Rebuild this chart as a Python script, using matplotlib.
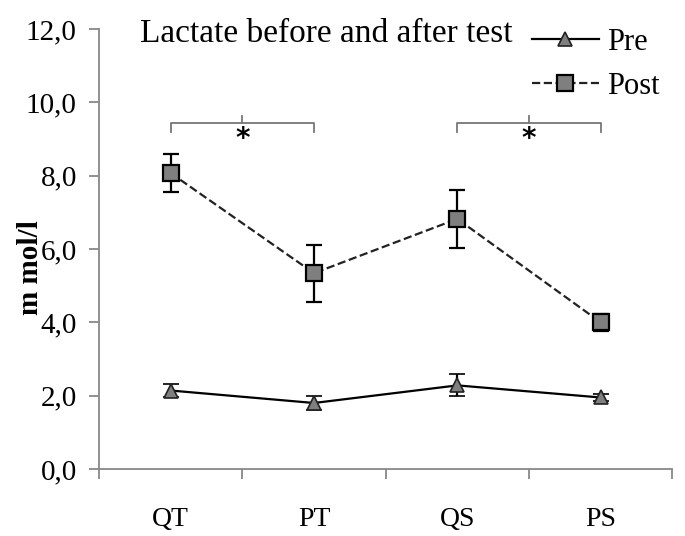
import matplotlib.pyplot as plt
from matplotlib.lines import Line2D
from matplotlib.ticker import FuncFormatter

groups = ["QT", "PT", "QS", "PS"]
pre = [2.14, 1.80, 2.28, 1.95]
pre_err = [0.17, 0.18, 0.30, 0.09]
post = [8.07, 5.34, 6.82, 4.00]
post_err = [0.51, 0.78, 0.79, 0.24]
title = "Lactate before and after test"

plt.rcParams['font.family'] = ['Liberation Serif', 'DejaVu Serif']

fig = plt.figure(figsize=(6.85, 5.36), dpi=100)
ax = fig.add_axes([0.1445, 0.125, 0.837, 0.821])

x = list(range(len(groups)))
pre_style = dict(color='black', lw=1.6, marker='^', mfc='#7f7f7f', mec='#222222', ms=10, mew=1.2)
post_style = dict(color='#222222', lw=1.6, ls='--', marker='s', mfc='#7f7f7f', mec='black', ms=11, mew=1.6)
ax.errorbar(x, pre, yerr=pre_err, ecolor='black', elinewidth=1.6, capsize=6, capthick=1.6, **pre_style)
ax.errorbar(x, post, yerr=post_err, ecolor='black', elinewidth=1.6, capsize=6, capthick=1.6, **post_style)

# significance brackets
for a, b in [(0, 1), (2, 3)]:
    ax.plot([a, a, b, b], [9.2, 9.44, 9.44, 9.2], color='#777777', lw=1.3)
    ax.plot([(a + b) / 2] * 2, [9.44, 9.63], color='#777777', lw=1.3)
    ax.text((a + b) / 2, 9.0, "*", ha='center', va='center', fontsize=20,
            fontweight='bold', family='DejaVu Sans')

ax.set_xlim(-0.5, 3.5)
ax.set_ylim(0, 12)
ax.set_yticks(range(0, 13, 2))
ax.yaxis.set_major_formatter(FuncFormatter(lambda v, p: f"{v:.1f}".replace('.', ',')))
ax.set_xticks([-0.5, 0.5, 1.5, 2.5, 3.5])
ax.set_xticklabels([])
ax.set_xticks(x, minor=True)
ax.set_xticklabels(groups, minor=True)
ax.tick_params(axis='x', which='minor', length=0, labelsize=20, pad=27)
ax.tick_params(axis='x', which='major', length=7, color='#888888', width=1.3)
ax.tick_params(axis='y', length=7, color='#888888', width=1.3, labelsize=21, pad=9)

for s in ['top', 'right']:
    ax.spines[s].set_visible(False)
for s in ['left', 'bottom']:
    ax.spines[s].set_color('#888888')
    ax.spines[s].set_linewidth(1.3)

fig.text(30 / 685, 0.5, "m mol/l", rotation=90, fontsize=21, fontweight='bold',
         ha='center', va='center')
ax.text(0.072, 0.99, title, transform=ax.transAxes, fontsize=24, va='center', ha='left')

handles = [Line2D([], [], **pre_style), Line2D([], [], **post_style)]
ax.legend(handles, ["Pre", "Post"], loc='upper right', bbox_to_anchor=(1.025, 1.065), frameon=False,
          fontsize=22, handlelength=2.2, handletextpad=0.25, labelspacing=0.5)

fig.savefig("out.png", dpi=100)
